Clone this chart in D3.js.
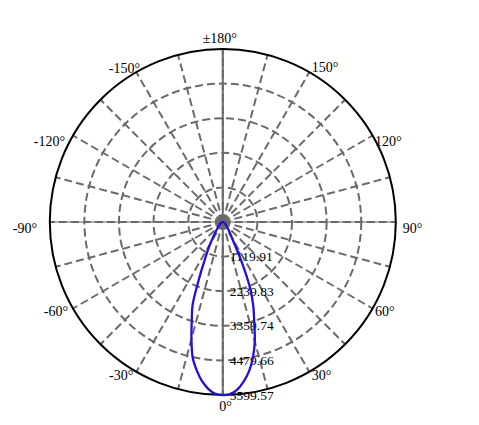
<!DOCTYPE html>
<html><head><meta charset="utf-8">
<script src="https://cdn.jsdelivr.net/npm/d3@7"></script>
<style>body{margin:0;background:#fff}svg{display:block}</style>
</head><body>
<svg id="c" width="479" height="425"></svg>
<script>
// ---- data ----
const maxValue = 5599.57;
const ringValues = [1119.91, 2239.83, 3359.74, 4479.66, 5599.57];
const angleLabels = [0, 30, 60, 90, 120, 150, 180, -150, -120, -90, -60, -30];
const gammaAngles = [0, 2.5, 5, 7.5, 10, 12.5, 15, 17.5, 20, 22.5, 25, 27.5, 30, 32.5, 35, 37.5, 40, 45, 50, 55, 60, 65, 70, 75, 80, 85, 90];
// plane toward +90° (right side)
const intensityRight = [5599.57, 5575, 5440, 5200, 4900, 4500, 4000, 3380, 2880, 2300, 1520, 880, 590, 440, 340, 270, 220, 160, 120, 90, 65, 50, 38, 28, 18, 10, 0];
// plane toward -90° (left side)
const intensityLeft  = [5599.57, 5570, 5420, 5190, 4870, 4500, 3920, 3340, 2860, 2050, 1450, 1080, 800, 600, 450, 350, 280, 200, 140, 100, 75, 55, 40, 28, 18, 10, 0];

// ---- layout ----
const cx = 222.8, cy = 222, R = 173;
const svg = d3.select('#c');
const g = svg.append('g').attr('transform', `translate(${cx},${cy})`);
const r = d3.scaleLinear().domain([0, maxValue]).range([0, R]);
const toRad = a => (180 - a) * Math.PI / 180; // 0° at bottom, +90° at right
const gray = '#6a6a6a';
const serif = '"Liberation Serif","Times New Roman",serif';

// inner dashed rings
g.selectAll('circle.ring').data(ringValues.slice(0, -1)).join('circle')
  .attr('r', d => r(d)).attr('fill', 'none')
  .attr('stroke', gray).attr('stroke-width', 2).attr('stroke-dasharray', '8,4');

// axes (solid)
g.append('line').attr('x1', 0).attr('x2', 0).attr('y1', -R).attr('y2', R)
  .attr('stroke', gray).attr('stroke-width', 2);
g.append('line').attr('x1', -R).attr('x2', R).attr('y1', 0).attr('y2', 0)
  .attr('stroke', gray).attr('stroke-width', 1.2);

// dashed spokes every 15°
g.selectAll('line.spoke').data(d3.range(0, 360, 15)).join('line')
  .attr('x1', 0).attr('y1', 0)
  .attr('x2', d => R * Math.sin(toRad(d)))
  .attr('y2', d => -R * Math.cos(toRad(d)))
  .attr('stroke', gray).attr('stroke-width', 2).attr('stroke-dasharray', '8,4');

// outer circle
g.append('circle').attr('r', r(maxValue)).attr('fill', 'none')
  .attr('stroke', '#000').attr('stroke-width', 2);

// ring labels
g.selectAll('text.rl').data(ringValues).join('text')
  .attr('x', 7).attr('y', d => r(d)).attr('dy', 4.5)
  .attr('font-family', serif).attr('font-size', 13.5).attr('fill', '#000')
  .text(d => d.toFixed(2));

// angle labels
const labelOffset = {
  '0': [2.7, 15.7, 'middle'], '30': [2.4, 8, 'start'], '60': [2.4, 7.5, 'start'],
  '90': [7, 11, 'start'], '120': [2.4, 10.5, 'start'], '150': [2.4, 0, 'start'],
  '180': [-3, -6.3, 'middle'], '-150': [3.7, 0.5, 'end'], '-120': [-8, 10, 'end'],
  '-90': [-12.8, 11, 'end'], '-60': [-5, 7.5, 'end'], '-30': [-3, 8, 'end']
};
g.selectAll('text.al').data(angleLabels).join('text')
  .attr('x', d => R * Math.sin(toRad(d)) + labelOffset[d][0])
  .attr('y', d => -R * Math.cos(toRad(d)) + labelOffset[d][1])
  .attr('text-anchor', d => labelOffset[d][2])
  .attr('font-family', serif).attr('font-size', 14).attr('fill', '#000')
  .text(d => d === 180 ? '±180°' : d + '°');

// intensity curve
const pts = [];
for (let i = gammaAngles.length - 1; i > 0; i--) pts.push([-gammaAngles[i], intensityLeft[i]]);
for (let i = 0; i < gammaAngles.length; i++) pts.push([gammaAngles[i], intensityRight[i]]);
const line = d3.lineRadial().angle(d => toRad(d[0])).radius(d => r(d[1])).curve(d3.curveCatmullRomClosed.alpha(0.5));
g.append('path').attr('d', line(pts)).attr('fill', 'none')
  .attr('stroke', '#2010dd').attr('stroke-width', 2.3).attr('stroke-linejoin', 'round');
</script>
</body></html>
